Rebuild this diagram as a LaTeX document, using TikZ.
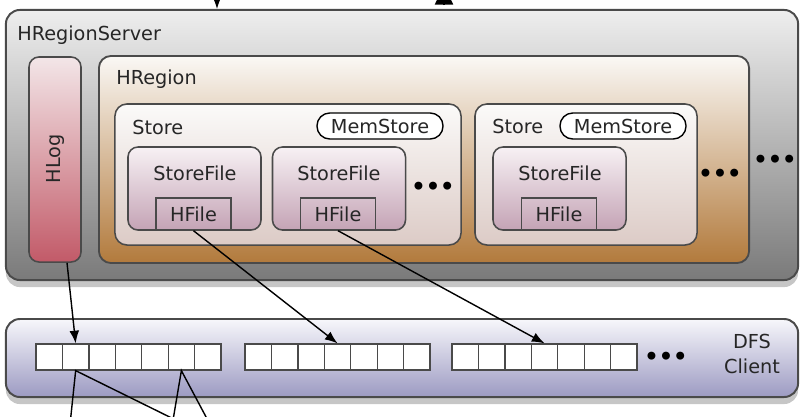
\documentclass[tikz,border=0pt]{standalone}
\usepackage{fontspec}
\setmainfont{DejaVu Sans}
\usetikzlibrary{arrows.meta,shadows}

\definecolor{srvtop}{HTML}{EEEEEE}
\definecolor{srvbot}{HTML}{7A7A7A}
\definecolor{logtop}{HTML}{F3E6E8}
\definecolor{logbot}{HTML}{C25A68}
\definecolor{regtop}{HTML}{FAF8F5}
\definecolor{regbot}{HTML}{B27A3C}
\definecolor{sttop}{HTML}{FBFAF9}
\definecolor{stbot}{HTML}{DCCBC6}
\definecolor{sftop}{HTML}{F7F1F4}
\definecolor{sfbot}{HTML}{C4A3B5}
\definecolor{dfstop}{HTML}{F7F7FB}
\definecolor{dfsbot}{HTML}{9C9AC2}
\definecolor{edge}{HTML}{4A4A4A}

\begin{document}
\begin{tikzpicture}[x=0.025cm,y=-0.025cm,
    every node/.style={font=\fontsize{13.7}{18}\selectfont, text=black!85, inner sep=0pt},
    outerbox/.style={draw=edge, line width=1.4pt, rounded corners=0.35cm,
        drop shadow={opacity=0.45, shadow xshift=0pt, shadow yshift=-5pt}},
    innerbox/.style={draw=edge, line width=1.1pt, rounded corners=0.3cm},
    pill/.style={draw=black, line width=1pt, fill=white, rounded corners=0.32cm,
        minimum width=3.15cm, minimum height=0.65cm},
    sfbox/.style={innerbox, rounded corners=0.25cm, top color=sftop, bottom color=sfbot,
        minimum width=3.325cm, minimum height=2.075cm},
    hfbox/.style={draw=edge, line width=1pt, minimum width=1.875cm, minimum height=0.8cm},
    cell/.style={draw=edge, line width=0.9pt, fill=white, minimum width=0.66cm, minimum height=0.65cm},
    dots/.style={font=\fontsize{16}{18}\selectfont\bfseries, text=black},
    conn/.style={line width=1pt, -{Latex[length=9pt,width=7pt]}}]

    \path[use as bounding box] (0,0) rectangle (806,416);
    \clip (0,0) rectangle (806,416);

    % region server
    \node[outerbox, top color=srvtop, bottom color=srvbot,
        minimum width=19.8cm, minimum height=6.75cm] (server) at (402,145) {};
    \node[anchor=west] (serverlbl) at (17,35) {HRegionServer};

    % HLog
    \node[innerbox, rounded corners=0.25cm, top color=logtop, bottom color=logbot,
        minimum width=1.3cm, minimum height=5.125cm] (hlog) at (55,159.5) {};
    \node[rotate=90] (hloglbl) at (55,159) {HLog};

    % region
    \node[innerbox, line width=1.3pt, top color=regtop, bottom color=regbot,
        minimum width=16.25cm, minimum height=5.175cm] (region) at (424,159.5) {};
    \node[anchor=west] (regionlbl) at (116,79) {HRegion};

    % stores
    \node[innerbox, top color=sttop, bottom color=stbot,
        minimum width=8.65cm, minimum height=3.525cm] (store1) at (288,174.5) {};
    \node[anchor=west] (store1lbl) at (132,127) {Store};
    \node[pill] (mem1) at (380,126) {MemStore};

    \node[innerbox, top color=sttop, bottom color=stbot,
        minimum width=5.55cm, minimum height=3.525cm] (store2) at (586,174.5) {};
    \node[anchor=west] (store2lbl) at (492,126) {Store};
    \node[pill] (mem2) at (623,126) {MemStore};

    % store files
    \node[sfbox] (sf1) at (194.5,188.5) {};
    \node (sf1lbl) at (195,173) {StoreFile};
    \node[hfbox] (hf1) at (193.5,214) {HFile};

    \node[sfbox] (sf2) at (339,188.5) {};
    \node (sf2lbl) at (339,173) {StoreFile};
    \node[hfbox] (hf2) at (338,214) {HFile};

    \node[sfbox] (sf3) at (559.5,188.5) {};
    \node (sf3lbl) at (560,173) {StoreFile};
    \node[hfbox] (hf3) at (559,214) {HFile};

    % more
    \node[dots] (more1) at (433,188) {•••};
    \node[dots] (more2) at (720,175) {•••};
    \node[dots] (more3) at (775,161) {•••};

    % dfs client
    \node[outerbox, top color=dfstop, bottom color=dfsbot,
        minimum width=19.8cm, minimum height=1.95cm] (dfs) at (402,358) {};
    \node[align=center] (dfslbl) at (752,354) {DFS\\Client};

    \foreach \b/\x in {a/36,b/245,c/452}
        \foreach \i in {1,...,7}
            \node[cell] (\b\i) at ({\x+26.43*\i-13.2},357) {};
    \node[dots] (more4) at (666,358) {•••};

    % writes
    \draw[conn] ([xshift=0.3cm]hlog.south) -- (a2.north);
    \draw[conn] (hf1.south) -- (b4.north);
    \draw[conn] (hf2.south) -- (c4.north);

    % ends outside the frame
    \coordinate (inA) at (217,-30);
    \coordinate (outB0) at (444,5);
    \coordinate (outB) at (444,-15);
    \draw[conn] (inA) -- (inA |- server.north);
    \draw[line width=1pt, -{Triangle[length=14pt,width=13pt]}] (outB0) -- (outB);

    \coordinate (d1) at (69,434);
    \coordinate (d2) at (196,430);
    \coordinate (d3) at (171,432);
    \coordinate (d4) at (213,430);
    \draw[line width=1pt] (d1) -- (a2.south) -- (d2);
    \draw[line width=1pt] (d3) -- (a6.south) -- (d4);
\end{tikzpicture}
\end{document}
